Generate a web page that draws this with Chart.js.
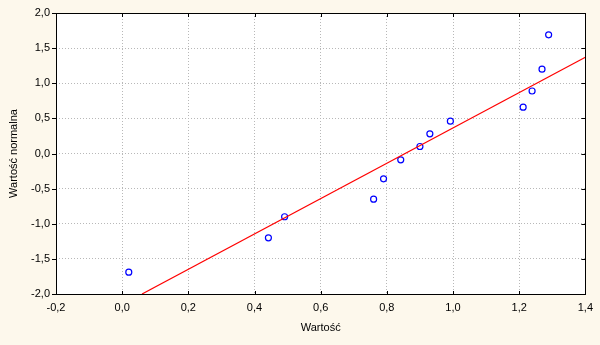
<!DOCTYPE html>
<html>
<head>
<meta charset="utf-8">
<script src="https://cdn.jsdelivr.net/npm/chart.js@4/dist/chart.umd.min.js"></script>
<style>
  html, body { margin: 0; padding: 0; background: #fdf8ec; }
  #wrap { width: 600px; height: 345px; position: relative; }
</style>
</head>
<body>
<div id="wrap"><canvas id="wykres"></canvas></div>
<script>
// Dane
const wartosci = [0.02, 0.442, 0.491, 0.76, 0.79, 0.842, 0.90, 0.93, 0.992, 1.212, 1.239, 1.269, 1.289];
const normalne = [-1.69, -1.20, -0.90, -0.65, -0.36, -0.09, 0.10, 0.28, 0.46, 0.66, 0.89, 1.20, 1.69];
const liniaX = [0.06, 1.4];
const liniaY = [-2.0, 1.37];
const osX = [-0.2, 1.4, 0.2];   // min, max, krok
const osY = [-2.0, 2.0, 0.5];

const fmt = v => (Math.abs(v) < 1e-9 ? 0 : v).toFixed(1).replace('.', ',');
const czcionka = { family: 'Liberation Sans, Arial, sans-serif', size: 11 };

// Kreski podzialki: lewa na zewnatrz, reszta do srodka
const kreski = {
  id: 'kreski',
  afterDraw(chart) {
    const { ctx, chartArea: a, scales } = chart;
    ctx.save();
    ctx.strokeStyle = '#000';
    ctx.lineWidth = 1;
    ctx.beginPath();
    scales.y.ticks.forEach(t => {
      const y = Math.round(scales.y.getPixelForValue(t.value)) + 0.5;
      ctx.moveTo(a.left - 4, y); ctx.lineTo(a.left, y);
      ctx.moveTo(a.right, y); ctx.lineTo(a.right - 4, y);
    });
    scales.x.ticks.forEach(t => {
      const x = Math.round(scales.x.getPixelForValue(t.value)) + 0.5;
      ctx.moveTo(x, a.top); ctx.lineTo(x, a.top + 4);
      ctx.moveTo(x, a.bottom); ctx.lineTo(x, a.bottom - 3);
    });
    ctx.stroke();
    ctx.strokeRect(Math.round(a.left) + 0.5, Math.round(a.top) + 0.5,
      Math.round(a.right - a.left), Math.round(a.bottom - a.top));
    ctx.restore();
  }
};

const tloObszaru = {
  id: 'tloObszaru',
  beforeDraw(chart) {
    const { ctx, chartArea: a } = chart;
    ctx.save();
    ctx.fillStyle = '#fdf8ec';
    ctx.fillRect(0, 0, chart.width, chart.height);
    ctx.fillStyle = '#ffffff';
    ctx.fillRect(a.left, a.top, a.right - a.left, a.bottom - a.top);
    ctx.restore();
  }
};

new Chart(document.getElementById('wykres'), {
  type: 'scatter',
  data: {
    datasets: [
      {
        type: 'line',
        data: liniaX.map((x, i) => ({ x, y: liniaY[i] })),
        borderColor: '#ff0000',
        borderWidth: 1.2,
        pointRadius: 0,
        fill: false
      },
      {
        data: wartosci.map((x, i) => ({ x, y: normalne[i] })),
        borderColor: '#0000ff',
        backgroundColor: 'rgba(0,0,0,0)',
        borderWidth: 1.2,
        pointRadius: 3
      }
    ]
  },
  options: {
    responsive: true,
    maintainAspectRatio: false,
    animation: false,
    layout: { padding: { top: 13, right: 14, left: 0, bottom: 0 } },
    plugins: { legend: { display: false }, tooltip: { enabled: false } },
    scales: {
      x: {
        type: 'linear',
        min: osX[0], max: osX[1],
        afterFit: s => { s.height = 51; },
        ticks: { stepSize: osX[2], callback: fmt, color: '#000', font: czcionka, padding: 7, maxRotation: 0 },
        grid: { color: '#b8b8b8', drawTicks: false },
        border: { display: false, dash: [1, 2] },
        title: { display: true, text: 'Wartość', color: '#000', font: czcionka, padding: { top: 0, bottom: 10 } }
      },
      y: {
        type: 'linear',
        min: osY[0], max: osY[1],
        afterFit: s => { s.width = 56; },
        ticks: { stepSize: osY[2], callback: fmt, color: '#000', font: czcionka, padding: 6 },
        grid: { color: '#b8b8b8', drawTicks: false },
        border: { display: false, dash: [1, 2] },
        title: { display: true, text: 'Wartość normalna', color: '#000', font: czcionka, padding: { top: 7, bottom: 0 } }
      }
    }
  },
  plugins: [tloObszaru, kreski]
});
</script>
</body>
</html>
